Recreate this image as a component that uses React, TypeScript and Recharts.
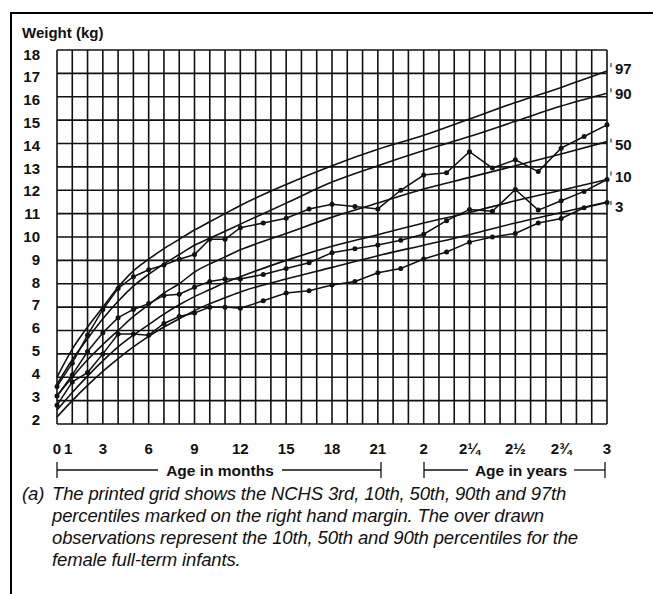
import React from 'react';
import { LineChart, Line, XAxis, YAxis, ReferenceLine } from 'recharts';

// NCHS printed percentile curves (age in months)
const nchsMonths = [0, 1, 2, 3, 4, 5, 6, 7, 8, 9, 10, 11, 12, 15, 18, 21, 24, 27, 30, 33, 36];
const p97 = [4.0, 5.2, 6.15, 7.0, 7.85, 8.55, 9.05, 9.5, 9.9, 10.3, 10.65, 11.0, 11.35, 12.25, 13.05, 13.75, 14.35, 15.05, 15.75, 16.4, 17.1];
const p90 = [3.7, 4.75, 5.65, 6.5, 7.25, 7.9, 8.4, 8.85, 9.25, 9.65, 9.95, 10.25, 10.55, 11.45, 12.35, 13.05, 13.7, 14.3, 14.95, 15.6, 16.15];
const p50 = [3.2, 4.0, 4.75, 5.4, 6.0, 6.6, 7.1, 7.6, 8.0, 8.5, 8.85, 9.15, 9.45, 10.15, 10.85, 11.45, 12.05, 12.55, 13.05, 13.55, 14.08];
const p10 = [2.6, 3.35, 4.05, 4.7, 5.3, 5.8, 6.25, 6.7, 7.1, 7.45, 7.75, 8.05, 8.3, 9.0, 9.6, 10.1, 10.6, 11.05, 11.55, 12.0, 12.46];
const p3 = [2.3, 3.0, 3.65, 4.25, 4.8, 5.3, 5.75, 6.15, 6.5, 6.85, 7.15, 7.4, 7.65, 8.2, 8.7, 9.2, 9.65, 10.1, 10.6, 11.05, 11.5];

// over drawn observations (female full-term infants)
const obsMonths = [0, 1, 2, 3, 4, 5, 6, 7, 8, 9, 10, 11, 12, 13.5, 15, 16.5, 18, 19.5, 21, 22.5, 24, 25.5, 27, 28.5, 30, 31.5, 33, 34.5, 36];
const obs90 = [3.6, 4.6, 5.8, 6.9, 7.8, 8.3, 8.6, 8.8, 9.05, 9.25, 9.9, 9.9, 10.4, 10.6, 10.8, 11.2, 11.4, 11.3, 11.2, 12.0, 12.65, 12.75, 13.65, 12.95, 13.3, 12.8, 13.8, 14.3, 14.8];
const obs50 = [3.2, 4.1, 5.1, 5.9, 6.55, 6.9, 7.15, 7.5, 7.55, 7.85, 8.1, 8.2, 8.2, 8.4, 8.65, 8.9, 9.33, 9.5, 9.66, 9.86, 10.12, 10.7, 11.18, 11.1, 12.03, 11.15, 11.55, 11.95, 12.46];
const obs10 = [2.8, 3.8, 4.2, 5.0, 5.85, 5.85, 5.8, 6.3, 6.6, 6.75, 7.0, 7.0, 6.95, 7.27, 7.6, 7.7, 7.95, 8.1, 8.47, 8.65, 9.06, 9.36, 9.78, 10.0, 10.15, 10.6, 10.79, 11.25, 11.48];

const xTicks = [0, 1, 3, 6, 9, 12, 15, 18, 21, 24, 27, 30, 33, 36];
const xTickLabels = ['0', '1', '3', '6', '9', '12', '15', '18', '21', '2', '2¼', '2½', '2¾', '3'];
const yTicks = [2, 3, 4, 5, 6, 7, 8, 9, 10, 11, 12, 13, 14, 15, 16, 17, 18];
const gridMonths = Array.from({ length: 37 }, (_, i) => i);

const font = '"Liberation Sans", Arial, Helvetica, sans-serif';
const ink = '#111';

const toRows = (xs: number[], ys: number[]) => xs.map((m, i) => ({ m, w: ys[i] }));

const curves = [
  { name: '97', data: toRows(nchsMonths, p97), dy: 3 },
  { name: '90', data: toRows(nchsMonths, p90), dy: 6 },
  { name: '50', data: toRows(nchsMonths, p50), dy: 8 },
  { name: '10', data: toRows(nchsMonths, p10), dy: 3 },
  { name: '3', data: toRows(nchsMonths, p3), dy: 10 },
];
const observed = [
  { name: 'obs90', data: toRows(obsMonths, obs90) },
  { name: 'obs50', data: toRows(obsMonths, obs50) },
  { name: 'obs10', data: toRows(obsMonths, obs10) },
];

const YTick = ({ y, payload }: any) => (
  <text x={40} y={y + 9.5 - (y - 50) * 0.024} textAnchor="end" fontFamily={font} fontWeight="bold" fontSize={15} fill={ink}>
    {payload.value}
  </text>
);

const XTick = ({ x, payload }: any) => {
  const i = xTicks.indexOf(payload.value);
  const dx = payload.value === 1 ? -4 : 0;
  return (
    <text x={x + dx} y={454} textAnchor="middle" fontFamily={font} fontWeight="bold" fontSize={15} fill={ink}>
      {xTickLabels[i]}
    </text>
  );
};

const endLabel = (name: string, last: number, dy: number) => (props: any) => {
  if (props.index !== last) return null;
  return (
    <g>
      <line x1={props.x + 4} y1={props.y + dy - 11} x2={props.x + 4} y2={props.y + dy - 7} stroke={ink} strokeWidth={1} />
      <text x={props.x + 8} y={props.y + dy} fontFamily={font} fontWeight="bold" fontSize={15} fill={ink}>
        {name}
      </text>
    </g>
  );
};

export default function App() {
  return (
    <div style={{ position: 'absolute', left: 0, top: 0, width: 653, height: 594, background: '#fff', overflow: 'hidden' }}>
      <div style={{ position: 'absolute', left: 10, top: 12, width: 700, height: 700, borderTop: '2px solid #000', borderLeft: '2px solid #000' }} />
      <div style={{ position: 'absolute', left: 22, top: 24, fontFamily: font, fontWeight: 'bold', fontSize: 15, color: ink }}>
        Weight (kg)
      </div>
      <div style={{ position: 'absolute', left: 0, top: 0 }}>
        <LineChart width={653} height={594} margin={{ top: 50, right: 46, bottom: 140, left: 0 }}>
          <XAxis
            type="number"
            dataKey="m"
            domain={[0, 36]}
            ticks={xTicks}
            interval={0}
            axisLine={false}
            tickLine={false}
            height={30}
            tick={<XTick />}
            allowDuplicatedCategory={false}
          />
          <YAxis type="number" domain={[2, 18]} ticks={yTicks} interval={0} axisLine={false} tickLine={false} width={57} tick={<YTick />} />
          {gridMonths.map((m) => (
            <ReferenceLine key={'gx' + m} x={m} stroke={ink} strokeWidth={1.6} />
          ))}
          {yTicks.map((w) => (
            <ReferenceLine key={'gy' + w} y={w} stroke={ink} strokeWidth={1.6} />
          ))}
          {curves.map((c) => (
            <Line
              key={c.name}
              data={c.data}
              dataKey="w"
              type="monotone"
              stroke={ink}
              strokeWidth={1.6}
              dot={false}
              isAnimationActive={false}
              label={endLabel(c.name, c.data.length - 1, c.dy)}
            />
          ))}
          {observed.map((c) => (
            <Line
              key={c.name}
              data={c.data}
              dataKey="w"
              type="linear"
              stroke={ink}
              strokeWidth={1.5}
              dot={{ r: 2.5, fill: ink, stroke: ink, strokeWidth: 0 }}
              isAnimationActive={false}
            />
          ))}
        </LineChart>
      </div>
      <svg width={653} height={594} style={{ position: 'absolute', left: 0, top: 0, pointerEvents: 'none' }}>
        <g stroke={ink} strokeWidth={1.3}>
          <line x1={57} y1={470} x2={158} y2={470} />
          <line x1={282} y1={470} x2={381} y2={470} />
          <line x1={57} y1={462} x2={57} y2={478} />
          <line x1={381} y1={462} x2={381} y2={478} />
          <line x1={424} y1={470} x2={468} y2={470} />
          <line x1={574} y1={470} x2={605} y2={470} />
          <line x1={424} y1={462} x2={424} y2={478} />
          <line x1={605} y1={462} x2={605} y2={478} />
        </g>
        <text x={220} y={475.5} textAnchor="middle" fontFamily={font} fontWeight="bold" fontSize={15.5} fill={ink}>Age in months</text>
        <text x={521} y={475.5} textAnchor="middle" fontFamily={font} fontWeight="bold" fontSize={15.5} fill={ink}>Age in years</text>
      </svg>
      <div style={{ position: 'absolute', left: 22, top: 483, fontFamily: font, fontStyle: 'italic', fontSize: 18.5, lineHeight: '22px', color: ink, letterSpacing: -0.15 }}>
        <div style={{ display: 'flex' }}>
          <span style={{ width: 30 }}>(a)</span>
          <span>The printed grid shows the NCHS 3rd, 10th, 50th, 90th and 97th</span>
        </div>
        <div style={{ paddingLeft: 30 }}>percentiles marked on the right hand margin. The over drawn</div>
        <div style={{ paddingLeft: 30 }}>observations represent the 10th, 50th and 90th percentiles for the</div>
        <div style={{ paddingLeft: 30 }}>female full-term infants.</div>
      </div>
    </div>
  );
}
